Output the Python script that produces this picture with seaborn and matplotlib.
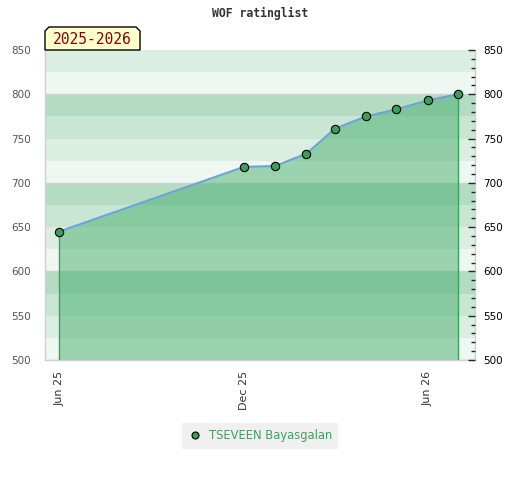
import numpy as np
import pandas as pd
import matplotlib
matplotlib.use("Agg")
import matplotlib.pyplot as plt
import matplotlib.dates as mdates
from matplotlib.lines import Line2D
from matplotlib.patches import Polygon
from matplotlib.ticker import MultipleLocator
import seaborn as sns

##----------- Data --------------##
months = ["2025-06-01", "2025-12-01", "2026-01-01", "2026-02-01", "2026-03-01",
          "2026-04-01", "2026-05-01", "2026-06-01", "2026-07-01"]
ratings = [645, 718, 719, 733, 761, 775, 783, 793, 800]
player = "TSEVEEN Bayasgalan"
season = "2025-2026"
title = "WOF ratinglist"
tick_dates = ["2025-06-01", "2025-12-01", "2026-06-01"]
y_ticks = [500, 550, 600, 650, 700, 750, 800, 850]

df = pd.DataFrame({"date": pd.to_datetime(months), "rating": ratings})

##----------- Style --------------##
sns.set_style("white")
plt.rcParams["font.family"] = ["DejaVu Sans"]

band_colors = ["#eef7f1", "#dbeee2", "#c8e6d3", "#b3dcc3"]
fill_color = "#49b06e"
line_color = "#6aa5d8"
dot_color = "#3a9f5c"
legend_green = "#3aa35a"

fig = plt.figure(figsize=(5.2, 4.8), dpi=100)
W, H = 520, 480
ax = fig.add_axes([45 / W, 1 - 360 / H, 430 / W, 310 / H])

ymin, ymax = y_ticks[0], y_ticks[-1]
# striped background every 25 points
for i, lo in enumerate(range(ymin, ymax, 25)):
    ax.axhspan(lo, lo + 25, color=band_colors[i % 4], lw=0, zorder=0)
for y in y_ticks:
    if y % 100 == 0:
        ax.axhline(y, color="#cfcfcf", lw=1, zorder=1)

ax.fill_between(df["date"], df["rating"], ymin, color=fill_color, alpha=0.5, lw=0, zorder=2)
ax.vlines([df["date"].iloc[0], df["date"].iloc[-1]], ymin,
          [df["rating"].iloc[0], df["rating"].iloc[-1]], color=legend_green, lw=1, zorder=3)
sns.lineplot(data=df, x="date", y="rating", ax=ax, color=line_color, lw=1.5,
             marker="o", markersize=6, markerfacecolor=dot_color,
             markeredgecolor="black", markeredgewidth=0.8, legend=False, zorder=4)

ax.set_xlim(pd.Timestamp("2025-05-18"), pd.Timestamp("2026-07-18"))
ax.set_ylim(ymin, ymax)
ax.set_xlabel("")
ax.set_ylabel("")
ax.set_yticks(y_ticks)
ax.tick_params(axis="y", length=0, labelsize=7.5, labelcolor="#555555", pad=10)
ax.set_xticks(pd.to_datetime(tick_dates))
ax.xaxis.set_major_formatter(mdates.DateFormatter("%b %y"))
ax.tick_params(axis="x", length=0, labelsize=8, labelcolor="#333333", rotation=90, pad=8)

for side in ["left", "bottom", "right"]:
    ax.spines[side].set_color("#d0d0d0")
    ax.spines[side].set_linewidth(1)
ax.spines["top"].set_visible(False)

ax2 = ax.twinx()
ax2.set_ylim(ymin, ymax)
ax2.set_yticks(y_ticks)
ax2.yaxis.set_minor_locator(MultipleLocator(10))
ax2.tick_params(axis="y", which="major", direction="in", length=5, width=1,
                labelsize=7.5, labelcolor="black", pad=6)
ax2.tick_params(axis="y", which="minor", direction="in", length=3, width=1)
for side in ["left", "bottom", "top", "right"]:
    ax2.spines[side].set_visible(False)

fig.text(260 / W, 1 - 13 / H, title, ha="center", va="center",
         family="DejaVu Sans Mono", fontweight="bold", fontsize=8.3, color="#333333")

# season label box with clipped top corners
pts = [(45, 50), (45, 31), (49, 27), (136, 27), (140, 31), (140, 50)]
fig.patches.append(Polygon([(x / W, 1 - y / H) for x, y in pts], closed=True,
                           transform=fig.transFigure, facecolor="#ffffcc",
                           edgecolor="black", lw=1, zorder=5))
fig.text(92.5 / W, 1 - 39.5 / H, season, ha="center", va="center",
         family="DejaVu Sans Mono", fontsize=10.5, color="#8b0000", zorder=6)

handle = Line2D([], [], ls="none", marker="o", markersize=5,
                markerfacecolor=dot_color, markeredgecolor="black", markeredgewidth=0.8)
fig.legend(handles=[handle], labels=[player], loc="center",
           bbox_to_anchor=(260 / W, 1 - 436 / H), frameon=True, fancybox=False,
           facecolor="#f0f0f0", edgecolor="none", framealpha=1, fontsize=8.3,
           labelcolor=legend_green, handletextpad=0.5, borderpad=0.55, handlelength=1.3)

plt.savefig("out.png", dpi=100)
plt.close()
